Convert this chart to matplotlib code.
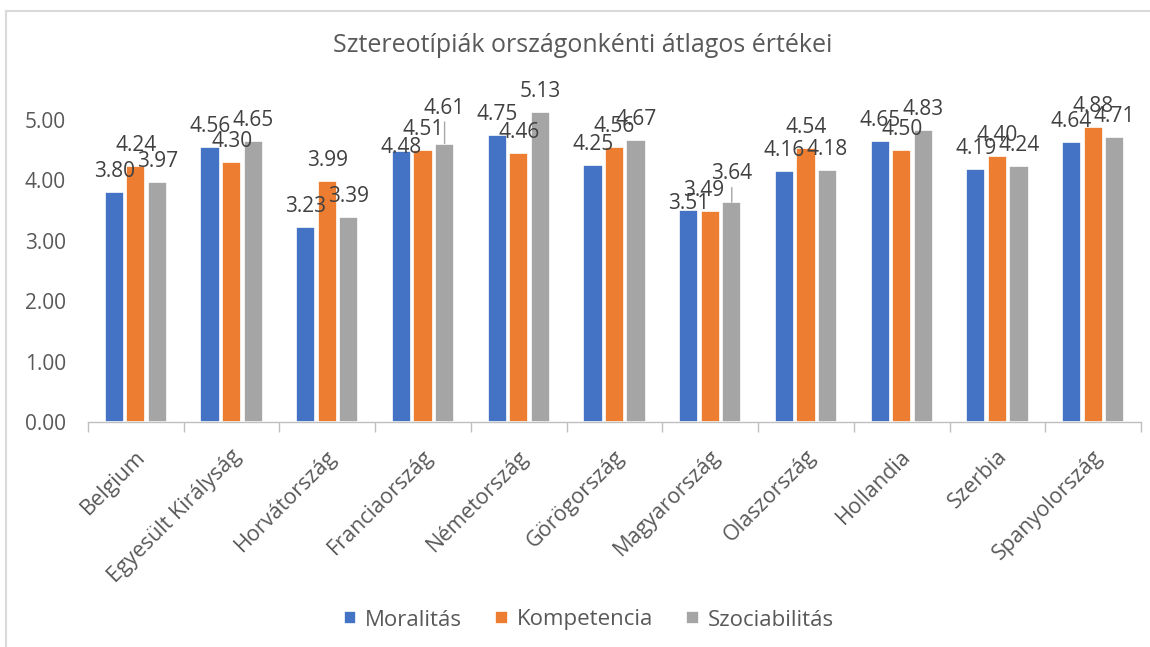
#!/usr/bin/env python

import matplotlib
matplotlib.use("Agg")
import matplotlib.pyplot as plt
from matplotlib.lines import Line2D
import numpy as np

countries = [
    "Belgium", "Egyesült Királyság", "Horvátország", "Franciaország",
    "Németország", "Görögország", "Magyarország", "Olaszország",
    "Hollandia", "Szerbia", "Spanyolország",
]
moralitas = [3.80, 4.56, 3.23, 4.48, 4.75, 4.25, 3.51, 4.16, 4.65, 4.19, 4.64]
kompetencia = [4.24, 4.30, 3.99, 4.51, 4.46, 4.56, 3.49, 4.54, 4.50, 4.40, 4.88]
szociabilitas = [3.97, 4.65, 3.39, 4.61, 5.13, 4.67, 3.64, 4.18, 4.83, 4.24, 4.71]
series_names = ["Moralitás", "Kompetencia", "Szociabilitás"]
colors = ["#4472C4", "#ED7D31", "#A5A5A5"]

# labels that were dragged by hand in the original: (series, country) -> (dx, dy) pixels
label_moves = {
    (0, 3): (0, -17),
    (2, 3): (0, 15),
    (0, 6): (0, -14),
    (1, 6): (-7, 0),
    (2, 6): (0, 8),
}

FONT = "Open Sans"
plt.rcParams["font.family"] = [FONT, "DejaVu Sans"]
LABEL_SIZE = 15


def main():
    fig = plt.figure(figsize=(11.5, 6.47), dpi=100)
    ax = fig.add_axes([88 / 1150, 225 / 647, 1053 / 1150, 344.3 / 647])

    x = np.arange(len(countries))
    step = 0.225
    data = [moralitas, kompetencia, szociabilitas]
    for s, (vals, name, col) in enumerate(zip(data, series_names, colors)):
        xs = x + (s - 1) * step
        ax.bar(xs, vals, width=0.2, color=col, edgecolor="white",
               linewidth=1.2, label=name, zorder=2)
        for i, (xi, v) in enumerate(zip(xs, vals)):
            dx, dy = label_moves.get((s, i), (0, 0))
            ax.annotate(f"{v:.2f}", xy=(xi, v), xytext=(dx, 15 + dy),
                        textcoords="offset pixels", ha="center", va="baseline",
                        fontsize=LABEL_SIZE, color="#404040", zorder=3)
            if dy > 5:
                ax.annotate("", xy=(xi, v), xytext=(0, 22 + dy - 15.5),
                            textcoords="offset pixels",
                            arrowprops=dict(arrowstyle="-", color="#A6A6A6",
                                            lw=1.0, shrinkA=0, shrinkB=0))

    ax.set_xlim(-0.5, len(countries) - 0.5)
    ax.set_ylim(0, 5.7)
    ax.set_yticks([0, 1, 2, 3, 4, 5])
    ax.set_yticklabels([f"{t:.2f}" for t in range(6)])
    ax.tick_params(axis="y", length=0, pad=16, labelsize=LABEL_SIZE,
                   labelcolor="#595959")

    ax.set_xticks(np.arange(len(countries) + 1) - 0.5)
    ax.set_xticklabels([])
    ax.tick_params(axis="x", length=7, color="#BFBFBF", width=1.0)
    for i, name in enumerate(countries):
        ax.annotate(name, xy=(i, 0), xycoords=("data", "axes fraction"),
                    xytext=(-1, -24), textcoords="offset pixels",
                    rotation=45, rotation_mode="anchor", ha="right", va="top",
                    fontsize=15.5, color="#595959")

    for side in ["top", "right", "left"]:
        ax.spines[side].set_visible(False)
    ax.spines["bottom"].set_color("#BFBFBF")
    ax.spines["bottom"].set_linewidth(1.0)

    fig.text(0.507, 1 - 45 / 647, "Sztereotípiák országonkénti átlagos értékei",
             ha="center", va="center", fontsize=18, color="#595959")

    ax.legend(loc="center", bbox_to_anchor=(0.512, 1 - 620 / 647),
              bbox_transform=fig.transFigure, ncol=3, frameon=False,
              fontsize=16, labelcolor="#595959", handlelength=0.55,
              handleheight=0.55, handletextpad=0.4, columnspacing=1.5)

    # chart area border (only left and top edges visible in the crop)
    fig.add_artist(Line2D([6 / 1150, 6 / 1150], [0, 1 - 11 / 647],
                          transform=fig.transFigure, color="#D9D9D9", lw=1.5))
    fig.add_artist(Line2D([6 / 1150, 1], [1 - 11 / 647, 1 - 11 / 647],
                          transform=fig.transFigure, color="#D9D9D9", lw=1.5))

    fig.savefig("out.png", dpi=100, facecolor="white")


if __name__ == "__main__":
    main()
